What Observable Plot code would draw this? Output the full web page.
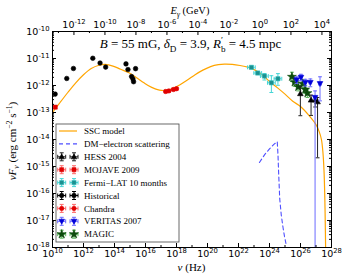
<!DOCTYPE html>
<html><head><meta charset="utf-8">
<script src="https://cdn.jsdelivr.net/npm/d3@7"></script>
<script src="https://cdn.jsdelivr.net/npm/@observablehq/plot@0.6"></script>
<style>body{margin:0;background:#fff}</style>
</head><body>
<script>
// ---------------- data ----------------
const H_GEV = 4.135667e-24; // Planck constant in GeV s (E = h nu)
const xTickExp = [10, 12, 14, 16, 18, 20, 22, 24, 26, 28];
const xMinorExp = [11, 13, 15, 17, 19, 21, 23, 25, 27];
const yTickExp = [-18, -17, -16, -15, -14, -13, -12, -11, -10];
const gevTickExp = [-12, -10, -8, -6, -4, -2, 0, 2, 4];
const gevMinorExp = [-13, -11, -9, -7, -5, -3, -1, 1, 3];

// SSC model (log10 nu, log10 nuFnu)
const sscLogNu = [10.0, 10.5, 11.0, 11.5, 12.0, 12.5, 13.0, 13.4, 13.9, 14.4, 14.9, 15.4, 15.9, 16.4, 16.9, 17.3, 17.7, 18.2, 18.7, 19.2, 19.7, 20.2, 20.7, 21.1, 21.6, 22.1, 22.6, 23.1, 23.6, 24.0, 24.5, 25.0, 25.5, 26.0, 26.5, 27.0, 27.2, 27.35, 27.45, 27.52, 27.57, 27.6, 27.62];
const sscLogF  = [-13.0, -12.62, -12.25, -11.9, -11.6, -11.37, -11.25, -11.22, -11.28, -11.4, -11.52, -11.7, -11.9, -12.07, -12.17, -12.18, -12.12, -11.98, -11.8, -11.6, -11.43, -11.3, -11.23, -11.21, -11.22, -11.26, -11.32, -11.44, -11.64, -11.85, -12.08, -12.32, -12.58, -12.78, -13.08, -13.45, -13.7, -14.0, -14.5, -15.2, -16.2, -17.2, -18.0];

// DM-electron scattering (log10 nu, log10 nuFnu)
const dmLogNu = [23.35, 23.7, 24.0, 24.3, 24.5, 24.55, 24.58, 24.66, 24.76, 24.87, 24.97, 25.06];
const dmLogF  = [-14.85, -14.55, -14.35, -14.17, -14.08, -14.6, -15.1, -16.2, -16.8, -17.25, -17.6, -17.85];

// Historical
const histNu = [1.48e10, 8.3e10, 2.24e11, 3.98e12, 1.17e13, 2.69e13, 5.5e14, 7.4e14, 1.26e15, 1.55e15, 1.70e15, 2.29e15];
const histF  = [4.8e-13, 1.82e-12, 4.27e-12, 1.02e-11, 6.8e-12, 4.8e-12, 6.3e-12, 3.9e-12, 2.14e-12, 1.74e-12, 1.38e-12, 4.2e-12];

// MOJAVE 2009
const mojaveNu = [1.5e10];
const mojaveF = [1.58e-13];
const mojaveFLo = [1.42e-13];
const mojaveFHi = [1.75e-13];

// Chandra
const chandraNu = [2.0e17, 3.2e17, 6.3e17, 1.0e18];
const chandraF = [6.0e-13, 6.3e-13, 7.1e-13, 7.6e-13];
const chandraFLo = [5.5e-13, 5.8e-13, 6.6e-13, 7.0e-13];
const chandraFHi = [6.5e-13, 6.8e-13, 7.7e-13, 8.2e-13];
const chandraNuLo = [1.6e17, 2.6e17, 5.0e17, 8.0e17];
const chandraNuHi = [2.5e17, 4.0e17, 7.9e17, 1.25e18];

// Fermi-LAT 10 months
const fermiNu = [6.8e22, 1.74e23, 4.7e23, 1.32e24, 3.5e24];
const fermiF = [4.7e-12, 2.9e-12, 2.24e-12, 1.26e-12, 1.78e-12];
const fermiFLo = [4.2e-12, 2.6e-12, 1.6e-12, 5.5e-13, 1.02e-12];
const fermiFHi = [5.2e-12, 3.3e-12, 2.75e-12, 2.3e-12, 2.75e-12];
const fermiNuLo = [3.8e22, 9.8e22, 2.6e23, 7.4e23, 2.0e24];
const fermiNuHi = [1.2e23, 3.1e23, 8.4e23, 2.35e24, 6.2e24];

// MAGIC
const magicNu = [2.8e25, 4.2e25, 7.1e25, 1.41e26, 2.0e26, 2.8e26];
const magicF = [2.1e-12, 1.32e-12, 8.9e-13, 1.17e-12, 7.1e-13, 5.2e-13];
const magicFLo = [1.4e-12, 9.3e-13, 6.3e-13, 8.3e-13, 5.0e-13, 3.6e-13];
const magicFHi = [3.1e-12, 1.86e-12, 1.25e-12, 1.66e-12, 1.0e-12, 7.4e-13];
const magicNuLo = [2.2e25, 3.3e25, 5.6e25, 1.12e26, 1.6e26, 2.2e26];
const magicNuHi = [3.5e25, 5.3e25, 8.9e25, 1.78e26, 2.5e26, 3.5e26];

// VERITAS 2007
const veritasNu = [5.6e25, 1.07e26, 2.04e26, 4.3e26, 8.7e26, 1.82e27];
const veritasF = [1.62e-12, 2.0e-12, 1.29e-12, 1.29e-12, 3.6e-13, 1.17e-12];
const veritasFLo = [1.2e-12, 1.5e-12, 9.5e-13, 9.0e-13, 1e-18, 2.7e-13];
const veritasFHi = [2.1e-12, 2.6e-12, 1.7e-12, 1.75e-12, 6.3e-13, 2.1e-12];
const veritasNuLo = [4.6e25, 8.8e25, 1.7e26, 3.6e26, 7.3e26, 1.5e27];
const veritasNuHi = [6.8e25, 1.3e26, 2.45e26, 5.2e26, 1.05e27, 2.2e27];

// HESS 2004
const hessNu = [9.8e25, 4.8e26, 8.9e26, 1.26e27];
const hessF = [5.0e-13, 2.9e-13, 2.9e-13, 2.5e-13];
const hessFLo = [7.6e-14, 7.8e-14, 1.6e-13, 2.1e-15];
const hessFHi = [8.9e-13, 4.4e-13, 4.0e-13, 3.6e-13];

const legendLabels = ["SSC model", "DM\u2212electron scattering", "HESS 2004", "MOJAVE 2009", "Fermi\u2212LAT 10 months", "Historical", "Chandra", "VERITAS 2007", "MAGIC"];

// ---------------- symbols ----------------
const capH = {draw(ctx, size) { const r = Math.sqrt(size) / 2; ctx.moveTo(-r, 0); ctx.lineTo(r, 0); }};
const capV = {draw(ctx, size) { const r = Math.sqrt(size) / 2; ctx.moveTo(0, -r); ctx.lineTo(0, r); }};
const triDown = {draw(ctx, size) { const s = Math.sqrt(size); ctx.moveTo(0, 0.62 * s); ctx.lineTo(-0.62 * s, -0.45 * s); ctx.lineTo(0.62 * s, -0.45 * s); ctx.closePath(); }};
const triUp = {draw(ctx, size) { const s = Math.sqrt(size); ctx.moveTo(0, -0.62 * s); ctx.lineTo(-0.62 * s, 0.45 * s); ctx.lineTo(0.62 * s, 0.45 * s); ctx.closePath(); }};

// ---------------- datasets ----------------
function rows(nu, F, FLo, FHi, nuLo, nuHi) {
  return nu.map((v, i) => ({nu: v, F: F[i],
    FLo: FLo ? FLo[i] : null, FHi: FHi ? FHi[i] : null,
    nuLo: nuLo ? nuLo[i] : null, nuHi: nuHi ? nuHi[i] : null}));
}
const sets = {
  hess:    {data: rows(hessNu, hessF, hessFLo, hessFHi), symbol: triUp, fill: "#000", bar: "#222", r: 2.6},
  mojave:  {data: rows(mojaveNu, mojaveF, mojaveFLo, mojaveFHi), symbol: "square", fill: "#e00000", bar: "#ff6a6a", r: 2.3},
  fermi:   {data: rows(fermiNu, fermiF, fermiFLo, fermiFHi, fermiNuLo, fermiNuHi), symbol: "square", fill: "#1b8f8f", stroke: "#2fbfbf", bar: "#45d6d6", r: 2.4},
  hist:    {data: rows(histNu, histF), symbol: "circle", fill: "#000", bar: "#000", r: 2.3},
  chandra: {data: rows(chandraNu, chandraF, chandraFLo, chandraFHi, chandraNuLo, chandraNuHi), symbol: "circle", fill: "#e00000", bar: "#ff6a6a", r: 2.2},
  veritas: {data: rows(veritasNu, veritasF, veritasFLo, veritasFHi, veritasNuLo, veritasNuHi), symbol: triDown, fill: "#0000d8", bar: "#6a6aff", r: 2.6},
  magic:   {data: rows(magicNu, magicF, magicFLo, magicFHi, magicNuLo, magicNuHi), symbol: "star", fill: "#0c4a0c", bar: "#5cb85c", r: 2.8}
};
function errMarks(s) {
  const m = [];
  const withY = s.data.filter(d => d.FLo != null);
  const withX = s.data.filter(d => d.nuLo != null);
  if (withY.length) {
    m.push(Plot.ruleX(withY, {x: "nu", y1: "FLo", y2: "FHi", stroke: s.bar, strokeWidth: 1, clip: true}));
    m.push(Plot.dot(withY, {x: "nu", y: "FLo", symbol: capH, r: 2.2, stroke: s.bar, strokeWidth: 1, clip: true}));
    m.push(Plot.dot(withY, {x: "nu", y: "FHi", symbol: capH, r: 2.2, stroke: s.bar, strokeWidth: 1}));
  }
  if (withX.length) {
    m.push(Plot.ruleY(withX, {y: "F", x1: "nuLo", x2: "nuHi", stroke: s.bar, strokeWidth: 1}));
    m.push(Plot.dot(withX, {x: "nuLo", y: "F", symbol: capV, r: 2.2, stroke: s.bar, strokeWidth: 1}));
    m.push(Plot.dot(withX, {x: "nuHi", y: "F", symbol: capV, r: 2.2, stroke: s.bar, strokeWidth: 1}));
  }
  m.push(Plot.dot(s.data, {x: "nu", y: "F", symbol: s.symbol, r: s.r, fill: s.fill, stroke: s.stroke || s.fill, strokeWidth: 0.6}));
  return m;
}

const ssc = sscLogNu.map((v, i) => ({nu: 10 ** v, F: 10 ** sscLogF[i]}));
const dm = dmLogNu.map((v, i) => ({nu: 10 ** v, F: 10 ** dmLogF[i]}));

const W = 348, Hh = 280, mL = 52, mR = 17, mT = 31, mB = 33;
const iW = W - mL - mR, iH = Hh - mT - mB;
const fmt = e => "10^" + e;

const plot = Plot.plot({
  width: W, height: Hh,
  marginLeft: mL, marginRight: mR, marginTop: mT, marginBottom: mB,
  style: {fontFamily: "DejaVu Sans", fontSize: "9.5px", background: "white", color: "black"},
  x: {type: "log", domain: [1e10, 1e28]},
  y: {type: "log", domain: [1e-18, 1e-10]},
  marks: [
    Plot.line(ssc, {x: "nu", y: "F", stroke: "#ffa500", strokeWidth: 1.2, curve: "catmull-rom", clip: true}),
    Plot.line(dm, {x: "nu", y: "F", stroke: "#4f4fff", strokeWidth: 1.1, strokeDasharray: "4,3", curve: "linear", clip: true}),
    ...errMarks(sets.hist),
    ...errMarks(sets.mojave),
    ...errMarks(sets.chandra),
    ...errMarks(sets.fermi),
    ...errMarks(sets.magic),
    ...errMarks(sets.hess),
    ...errMarks(sets.veritas),
    // tick marks (inside)
    Plot.tickX(xTickExp.map(e => 10 ** e), {x: d => d, insetTop: iH - 4, stroke: "black"}),
    Plot.tickX(xMinorExp.map(e => 10 ** e), {x: d => d, insetTop: iH - 2, stroke: "black"}),
    Plot.tickX(gevTickExp.map(e => 10 ** e / H_GEV), {x: d => d, insetBottom: iH - 4, stroke: "black"}),
    Plot.tickX(gevMinorExp.map(e => 10 ** e / H_GEV), {x: d => d, insetBottom: iH - 2, stroke: "black"}),
    Plot.tickY(yTickExp.map(e => 10 ** e), {y: d => d, insetRight: iW - 4, stroke: "black"}),
    Plot.tickY(yTickExp.map(e => 10 ** e), {y: d => d, insetLeft: iW - 4, stroke: "black"}),
    Plot.tickY(yTickExp.slice(0, -1).flatMap(e => [2,3,4,5,6,7,8,9].map(k => k * 10 ** e)), {y: d => d, insetRight: iW - 2, stroke: "black"}),
    Plot.tickY(yTickExp.slice(0, -1).flatMap(e => [2,3,4,5,6,7,8,9].map(k => k * 10 ** e)), {y: d => d, insetLeft: iW - 2, stroke: "black"}),
    // axes labels
    Plot.axisX({ticks: xTickExp.map(e => 10 ** e), tickFormat: d => fmt(Math.round(Math.log10(d))), tickSize: 0, tickPadding: 3, label: null}),
    Plot.axisX({anchor: "top", ticks: gevTickExp.map(e => 10 ** e / H_GEV), tickFormat: d => fmt(Math.round(Math.log10(d * H_GEV))), tickSize: 0, tickPadding: 4, label: null}),
    Plot.axisY({ticks: yTickExp.map(e => 10 ** e), tickFormat: d => fmt(Math.round(Math.log10(d))), tickSize: 0, tickPadding: 3, label: null}),
    Plot.frame({stroke: "black", strokeWidth: 1})
  ]
});

// superscript tick labels
const NS = "http://www.w3.org/2000/svg";
plot.querySelectorAll("text").forEach(t => {
  const m = t.textContent.match(/^10\^(-?\d+)$/);
  if (m) {
    t.textContent = "10";
    const ts = document.createElementNS(NS, "tspan");
    ts.setAttribute("font-size", "6.8");
    ts.setAttribute("dy", "-4");
    ts.textContent = m[1];
    t.appendChild(ts);
  }
});

// rich text helper
function rich(parent, x, y, parts, size, attrs = {}) {
  const t = parent.append("text").attr("x", x).attr("y", y).attr("font-size", size)
    .attr("font-family", "Liberation Serif").attr("fill", "black");
  for (const k in attrs) t.attr(k, attrs[k]);
  let cur = 0;
  for (const p of parts) {
    const target = p.sub ? size * 0.3 : p.sup ? -size * 0.4 : 0;
    const ts = t.append("tspan").text(p.t).attr("dy", target - cur);
    if (p.sub || p.sup) ts.attr("font-size", size * 0.7);
    if (p.i) ts.attr("font-style", "italic");
    if (p.dx) ts.attr("dx", p.dx);
    cur = target;
  }
  return t;
}

const svg = d3.select(plot);
const g = svg.append("g");
// annotation
rich(g, 190.5, 48, [
  {t: "B", i: 1}, {t: " = 55 mG, "}, {t: "\u03b4", i: 1}, {t: "D", sub: 1}, {t: " = 3.9, "},
  {t: "R", i: 1}, {t: "\u2032", sup: 1}, {t: "b", sub: 1, dx: -2}, {t: " = 4.5 mpc"}
], 13, {"text-anchor": "middle"});
// axis titles
rich(g, 191.5, 271, [{t: "\u03bd", i: 1}, {t: " (Hz)"}], 11, {"text-anchor": "middle"});
rich(g, 190, 14, [{t: "E", i: 1}, {t: "\u03b3", sub: 1, i: 1}, {t: " (GeV)"}], 10.5, {"text-anchor": "middle"});
rich(g, 0, 0, [{t: "\u03bd", i: 1}, {t: "F", i: 1}, {t: "\u03bd", sub: 1, i: 1}, {t: " (erg cm"}, {t: "\u22122", sup: 1}, {t: " s"}, {t: "\u22121", sup: 1}, {t: ")"}], 11,
  {"text-anchor": "middle", transform: "translate(16,141) rotate(-90)"});

// legend
const lg = svg.append("g").attr("text-anchor", "start");
lg.append("rect").attr("x", 56).attr("y", 124).attr("width", 123).attr("height", 118)
  .attr("fill", "white").attr("stroke", "#444").attr("stroke-width", 0.8);
const ly = i => 131 + 12.9 * i;
lg.append("line").attr("x1", 59).attr("x2", 77).attr("y1", ly(0)).attr("y2", ly(0)).attr("stroke", "#ffa500").attr("stroke-width", 1.2);
lg.append("line").attr("x1", 59).attr("x2", 77).attr("y1", ly(1)).attr("y2", ly(1)).attr("stroke", "#4f4fff").attr("stroke-width", 1.1).attr("stroke-dasharray", "4,3");
const order = [sets.hess, sets.mojave, sets.fermi, sets.hist, sets.chandra, sets.veritas, sets.magic];
const named = {circle: d3.symbolCircle, square: d3.symbolSquare, star: d3.symbolStar};
order.forEach((s, k) => {
  const y = ly(k + 2);
  for (const x of [61.7, 74]) {
    const bar = s.bar;
    lg.append("line").attr("x1", x).attr("x2", x).attr("y1", y - 4).attr("y2", y + 4).attr("stroke", bar);
    lg.append("line").attr("x1", x - 2).attr("x2", x + 2).attr("y1", y - 4).attr("y2", y - 4).attr("stroke", bar);
    lg.append("line").attr("x1", x - 2).attr("x2", x + 2).attr("y1", y + 4).attr("y2", y + 4).attr("stroke", bar);
    lg.append("line").attr("x1", x - 4).attr("x2", x + 4).attr("y1", y).attr("y2", y).attr("stroke", bar);
    lg.append("line").attr("x1", x - 4).attr("x2", x - 4).attr("y1", y - 2).attr("y2", y + 2).attr("stroke", bar);
    lg.append("line").attr("x1", x + 4).attr("x2", x + 4).attr("y1", y - 2).attr("y2", y + 2).attr("stroke", bar);
    const type = typeof s.symbol === "string" ? named[s.symbol] : s.symbol;
    lg.append("path").attr("d", d3.symbol(type, Math.PI * s.r * s.r)())
      .attr("transform", `translate(${x},${y})`).attr("fill", s.fill).attr("stroke", s.stroke || s.fill).attr("stroke-width", 0.6);
  }
});
legendLabels.forEach((lab, i) => {
  lg.append("text").attr("x", 84).attr("y", ly(i)).attr("dy", "0.35em").attr("font-size", 9)
    .attr("font-family", "Liberation Serif").attr("text-anchor", "start").text(lab);
});

document.body.append(plot);
</script>
</body></html>
